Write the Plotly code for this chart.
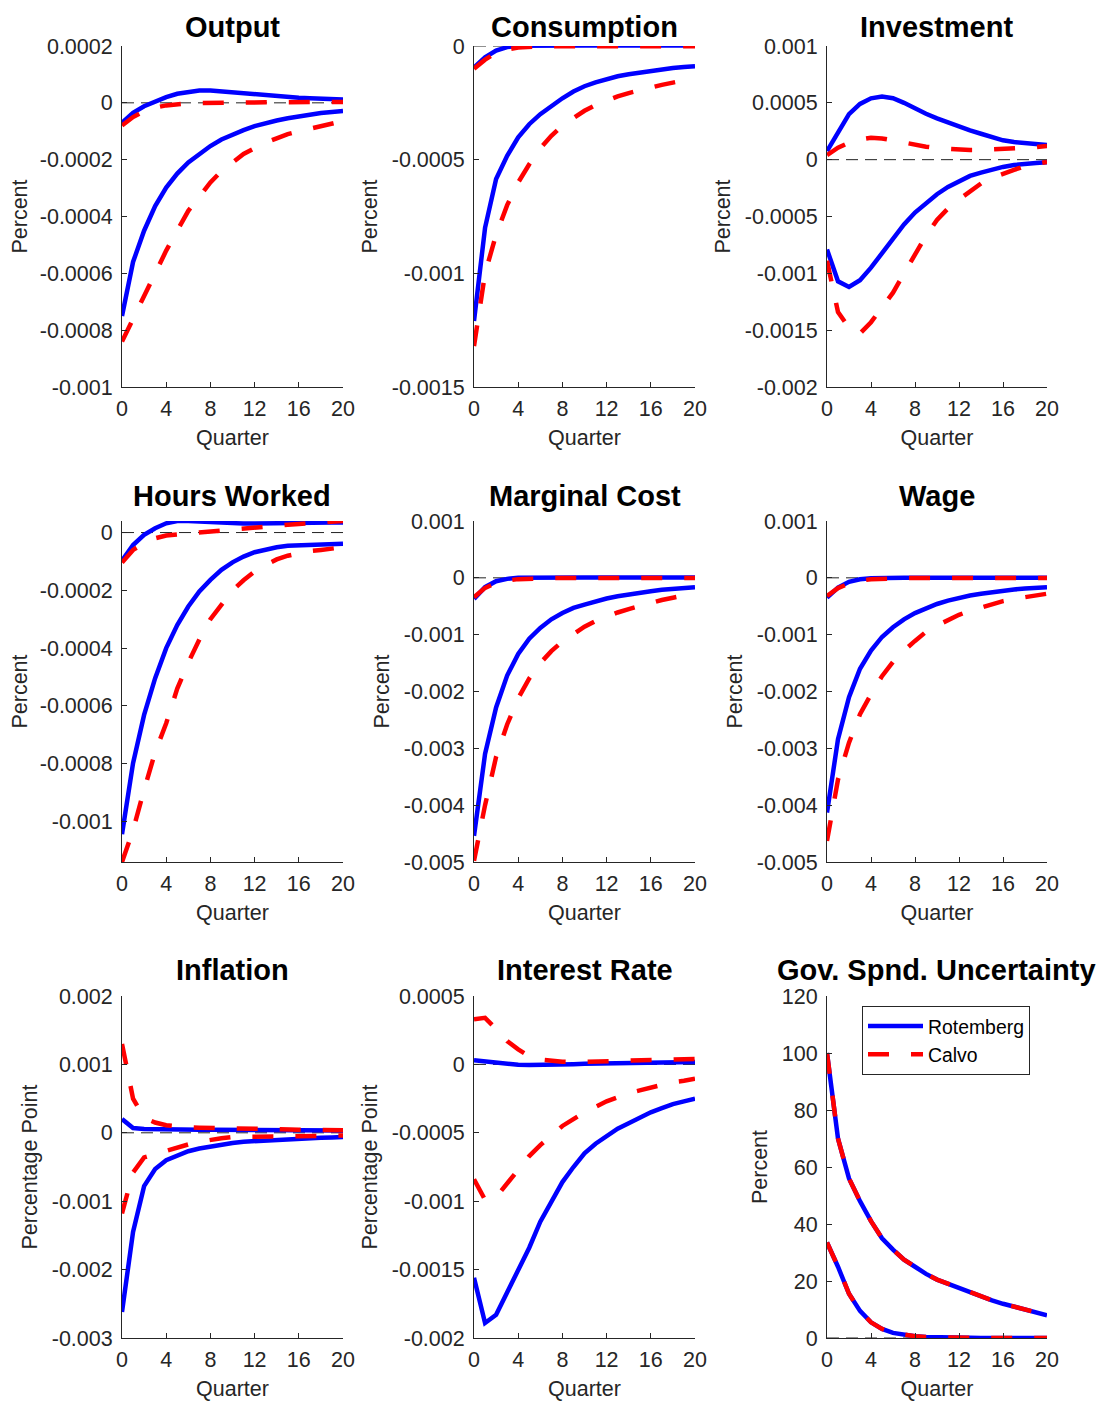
import plotly.graph_objects as go

# horizon
quarters = list(range(21))
quarter_ticks = [0, 4, 8, 12, 16, 20]

# Output
out_rot_hi = [-0.00007, -0.000035, -0.000012, 0.000006, 0.00002, 0.000032, 0.000039, 0.000043, 0.000043, 0.00004, 0.000036,
              0.000031, 0.000027, 0.000024, 0.000022, 0.00002, 0.000018, 0.000016, 0.000014, 0.000013, 0.000012]
out_rot_lo = [-0.00075, -0.00056, -0.00045, -0.000363, -0.000298, -0.000249, -0.00021, -0.000179, -0.000152, -0.000129, -0.000111,
              -0.000096, -0.000082, -0.000071, -0.000062, -0.000054, -0.000047, -0.000041, -0.000036, -0.000032, -0.000029]
out_cal_hi = [-0.00008, -0.00005, -0.00003, -0.000017, -0.000009, -0.000005, -0.000002, -0.000001, 0.0, 0.0, 0.000001,
              0.000001, 0.000001, 0.000002, 0.000002, 0.000002, 0.000002, 0.000003, 0.000003, 0.000003, 0.000003]
out_cal_lo = [-0.00084, -0.00076, -0.00068, -0.0006, -0.00052, -0.00045, -0.00038, -0.00033, -0.00028, -0.00024, -0.00021,
              -0.00018, -0.00016, -0.00014, -0.000125, -0.00011, -0.0001, -0.00009, -0.000082, -0.000073, -0.000064]
out_ticks = [-0.001, -0.0008, -0.0006, -0.0004, -0.0002, 0, 0.0002]
out_labels = ["-0.001", "-0.0008", "-0.0006", "-0.0004", "-0.0002", "0", "0.0002"]

# Consumption
con_rot_hi = [-0.000095, -0.00005, -0.00002, -0.000005, 0.000001, 0.000002, 0.000002, 0.000002, 0.000002, 0.000002, 0.000002,
              0.000002, 0.000002, 0.000002, 0.000002, 0.000002, 0.000002, 0.000002, 0.000002, 0.000002, 0.000002]
con_rot_lo = [-0.00121, -0.0008, -0.000585, -0.000483, -0.000402, -0.000344, -0.0003, -0.000263, -0.00023, -0.0002, -0.000177,
              -0.00016, -0.000145, -0.000133, -0.000124, -0.000116, -0.000108, -0.000102, -0.000097, -0.000092, -0.000089]
con_cal_hi = [-0.0001, -0.00006, -0.00003, -0.000015, -0.000007, -0.000003, -0.000001, -0.000001, -0.000001, -0.000001, -0.000001,
              -0.000001, -0.000001, -0.000001, -0.000001, -0.000001, -0.000001, -0.000001, -0.000001, -0.000001, -0.000001]
con_cal_lo = [-0.00132, -0.001, -0.00083, -0.0007, -0.0006, -0.00052, -0.00045, -0.000395, -0.00035, -0.000315, -0.000285,
              -0.00026, -0.00024, -0.000222, -0.000207, -0.000194, -0.000182, -0.000171, -0.000161, -0.000151, -0.000142]
con_ticks = [-0.0015, -0.001, -0.0005, 0]
con_labels = ["-0.0015", "-0.001", "-0.0005", "0"]

# Investment
inv_rot_hi = [0.000076, 0.000237, 0.0004, 0.00049, 0.00054, 0.000556, 0.00054, 0.0005, 0.00045, 0.000404, 0.000363,
              0.000325, 0.00029, 0.000258, 0.000228, 0.000195, 0.00017, 0.000155, 0.000146, 0.000138, 0.00013]
inv_rot_lo = [-0.00079, -0.00107, -0.00112, -0.00106, -0.00095, -0.00082, -0.00069, -0.00057, -0.000465, -0.000378, -0.000304,
              -0.00024, -0.000187, -0.000143, -0.000114, -0.000085, -0.000064, -0.000047, -0.000035, -0.000029, -0.000023]
inv_cal_hi = [0.00004, 0.000105, 0.00015, 0.000178, 0.000193, 0.000187, 0.00017, 0.00015, 0.00013, 0.000114, 0.000102,
              0.000094, 0.000088, 0.000085, 0.000085, 0.000088, 0.000094, 0.0001, 0.000105, 0.00011, 0.00012]
inv_cal_lo = [-0.00089, -0.00134, -0.00148, -0.00153, -0.00143, -0.0013, -0.00117, -0.001, -0.00083, -0.00067, -0.00053,
              -0.00043, -0.00035, -0.00028, -0.00021, -0.00016, -0.00012, -0.00009, -0.000056, -0.000035, -0.00002]
inv_ticks = [-0.002, -0.0015, -0.001, -0.0005, 0, 0.0005, 0.001]
inv_labels = ["-0.002", "-0.0015", "-0.001", "-0.0005", "0", "0.0005", "0.001"]

# Hours worked
hrs_rot_hi = [-0.000097, -0.000043, -0.000008, 0.000015, 0.000032, 0.00004, 0.00004, 0.000038, 0.000035, 0.000032, 0.000031,
              0.000031, 0.000031, 0.000032, 0.000032, 0.000033, 0.000033, 0.000034, 0.000034, 0.000035, 0.000035]
hrs_rot_lo = [-0.001044, -0.000798, -0.000631, -0.000504, -0.0004, -0.00032, -0.000256, -0.000204, -0.000164, -0.000129, -0.000103,
              -0.000083, -0.000068, -0.000058, -0.000051, -0.000046, -0.000044, -0.000042, -0.00004, -0.000039, -0.000039]
hrs_cal_hi = [-0.000104, -0.00006, -0.000037, -0.00002, -0.00001, -0.000006, -0.000002, 0.000001, 0.000005, 0.000007, 0.00001,
              0.000014, 0.000017, 0.00002, 0.000024, 0.000027, 0.00003, 0.000033, 0.000036, 0.000038, 0.00004]
hrs_cal_lo = [-0.00114, -0.00103, -0.00089, -0.00076, -0.00066, -0.00054, -0.00045, -0.00037, -0.0003, -0.00025, -0.0002,
              -0.000165, -0.000135, -0.000112, -0.000093, -0.00008, -0.00007, -0.000064, -0.00006, -0.000055, -0.000051]
hrs_ticks = [-0.001, -0.0008, -0.0006, -0.0004, -0.0002, 0]
hrs_labels = ["-0.001", "-0.0008", "-0.0006", "-0.0004", "-0.0002", "0"]

# Marginal cost
mc_rot_hi = [-0.00037, -0.000164, -0.00006, -0.000018, 0.0, 0.000004, 0.000005, 0.000005, 0.000005, 0.000005, 0.000005,
             0.000005, 0.000005, 0.000005, 0.000005, 0.000005, 0.000005, 0.000005, 0.000005, 0.000005, 0.000005]
mc_rot_lo = [-0.00454, -0.0031, -0.00228, -0.00172, -0.00134, -0.00107, -0.00088, -0.00073, -0.00062, -0.00053, -0.00047,
             -0.00041, -0.000364, -0.000323, -0.000288, -0.000258, -0.000235, -0.000211, -0.000194, -0.000176, -0.000164]
mc_cal_hi = [-0.00034, -0.000176, -0.000094, -0.000047, -0.000023, -0.000012, -0.000006, -0.000004, -0.000003, -0.000003, -0.000003,
             -0.000003, -0.000003, -0.000003, -0.000003, -0.000003, -0.000003, -0.000003, -0.000003, -0.000003, -0.000003]
mc_cal_lo = [-0.00498, -0.004, -0.00315, -0.00258, -0.00212, -0.00177, -0.0015, -0.00129, -0.00112, -0.00098, -0.00086,
             -0.00076, -0.00068, -0.00061, -0.00055, -0.00049, -0.00044, -0.00039, -0.00035, -0.00031, -0.00027]
mc_ticks = [-0.005, -0.004, -0.003, -0.002, -0.001, 0, 0.001]
mc_labels = ["-0.005", "-0.004", "-0.003", "-0.002", "-0.001", "0", "0.001"]

# Wage
wg_rot_hi = [-0.00035, -0.00017, -0.00007, -0.000025, -0.000008, 0.0, 0.000003, 0.000003, 0.000003, 0.000003, 0.000003,
             0.000003, 0.000003, 0.000003, 0.000003, 0.000003, 0.000003, 0.000003, 0.000003, 0.000003, 0.000003]
wg_rot_lo = [-0.00413, -0.00284, -0.0021, -0.0016, -0.00128, -0.00104, -0.00087, -0.00073, -0.00062, -0.00053, -0.00046,
             -0.0004, -0.00035, -0.00031, -0.00028, -0.00025, -0.00022, -0.000205, -0.000188, -0.000176, -0.000164]
wg_cal_hi = [-0.00032, -0.00018, -0.0001, -0.00005, -0.000025, -0.000012, -0.000006, -0.000004, -0.000003, -0.000003, -0.000003,
             -0.000003, -0.000003, -0.000003, -0.000003, -0.000003, -0.000003, -0.000003, -0.000003, -0.000003, -0.000003]
wg_cal_lo = [-0.00463, -0.00355, -0.0029, -0.0024, -0.00205, -0.00173, -0.00148, -0.00128, -0.00111, -0.00095, -0.00084,
             -0.00074, -0.00065, -0.00058, -0.00052, -0.00046, -0.00041, -0.00037, -0.00034, -0.00031, -0.00028]
wg_ticks = mc_ticks
wg_labels = mc_labels

# Inflation
inf_rot_hi = [0.0002, 0.00007, 0.000055, 0.00005, 0.000048, 0.000047, 0.000046, 0.000045, 0.000044, 0.000043, 0.000042,
              0.000041, 0.00004, 0.000039, 0.000038, 0.000037, 0.000036, 0.000036, 0.000035, 0.000035, 0.000034]
inf_rot_lo = [-0.00262, -0.00145, -0.00078, -0.00053, -0.0004, -0.00033, -0.00027, -0.00023, -0.0002, -0.00017, -0.00015,
              -0.00013, -0.00012, -0.00011, -0.0001, -0.000092, -0.000085, -0.000078, -0.000072, -0.000067, -0.000063]
inf_cal_hi = [0.0013, 0.0005, 0.00022, 0.00015, 0.00011, 0.00009, 0.00008, 0.000075, 0.00007, 0.000066, 0.000062,
              0.000058, 0.000055, 0.000052, 0.00005, 0.000047, 0.000045, 0.000043, 0.000041, 0.00004, 0.000038]
inf_cal_lo = [-0.00118, -0.00058, -0.00036, -0.00031, -0.00026, -0.00021, -0.00017, -0.00013, -0.0001, -0.00008, -0.000062,
              -0.00006, -0.000058, -0.000055, -0.000052, -0.00005, -0.000047, -0.000045, -0.000043, -0.00004, -0.00004]
inf_ticks = [-0.003, -0.002, -0.001, 0, 0.001, 0.002]
inf_labels = ["-0.003", "-0.002", "-0.001", "0", "0.001", "0.002"]

# Interest rate
ir_rot_hi = [0.00003, 0.000022, 0.000012, 0.000002, -0.000003, -0.000005, -0.000005, -0.000003, 0.0, 0.000002, 0.000004,
             0.000005, 0.000007, 0.000008, 0.00001, 0.000011, 0.000012, 0.000013, 0.000015, 0.000016, 0.000017]
ir_rot_lo = [-0.00156, -0.00189, -0.00183, -0.00167, -0.00151, -0.00134, -0.00115, -0.001, -0.00086, -0.00075, -0.00065,
             -0.00058, -0.00052, -0.00047, -0.00043, -0.00039, -0.00035, -0.00032, -0.00029, -0.00027, -0.00025]
ir_cal_hi = [0.00033, 0.00034, 0.00026, 0.00017, 0.00011, 0.00006, 0.000035, 0.000025, 0.00002, 0.000018, 0.000018,
             0.00002, 0.000022, 0.000025, 0.000028, 0.00003, 0.000033, 0.000035, 0.000037, 0.000039, 0.00004]
ir_cal_lo = [-0.00084, -0.00099, -0.00097, -0.00087, -0.00076, -0.00067, -0.00059, -0.00052, -0.00045, -0.0004, -0.00035,
             -0.00031, -0.00027, -0.00024, -0.00021, -0.00019, -0.00017, -0.00015, -0.00013, -0.00012, -0.000105]
ir_ticks = [-0.002, -0.0015, -0.001, -0.0005, 0, 0.0005]
ir_labels = ["-0.002", "-0.0015", "-0.001", "-0.0005", "0", "0.0005"]

# Government spending uncertainty shock (identical in both models)
gov_rot_hi = [100, 70, 56, 48, 41, 35, 31, 27.5, 25, 22.5, 20.5, 19, 17.5, 16, 14.5, 13.2, 12, 11, 10, 9, 8]
gov_rot_lo = [33.5, 25, 15.5, 9.5, 5.5, 3.2, 1.8, 1.0, 0.6, 0.35, 0.2, 0.12, 0.08, 0.05, 0.03, 0.02, 0.01, 0.01, 0.0, 0.0, 0.0]
gov_cal_hi = gov_rot_hi
gov_cal_lo = gov_rot_lo
gov_ticks = [0, 20, 40, 60, 80, 100, 120]
gov_labels = ["0", "20", "40", "60", "80", "100", "120"]

panels = [
    ("Output", "Percent", [out_rot_hi, out_rot_lo], [out_cal_hi, out_cal_lo], [-0.001, 0.0002], out_ticks, out_labels),
    ("Consumption", "Percent", [con_rot_hi, con_rot_lo], [con_cal_hi, con_cal_lo], [-0.0015, 0], con_ticks, con_labels),
    ("Investment", "Percent", [inv_rot_hi, inv_rot_lo], [inv_cal_hi, inv_cal_lo], [-0.002, 0.001], inv_ticks, inv_labels),
    ("Hours Worked", "Percent", [hrs_rot_hi, hrs_rot_lo], [hrs_cal_hi, hrs_cal_lo], [-0.00114, 0.00004], hrs_ticks, hrs_labels),
    ("Marginal Cost", "Percent", [mc_rot_hi, mc_rot_lo], [mc_cal_hi, mc_cal_lo], [-0.005, 0.001], mc_ticks, mc_labels),
    ("Wage", "Percent", [wg_rot_hi, wg_rot_lo], [wg_cal_hi, wg_cal_lo], [-0.005, 0.001], wg_ticks, wg_labels),
    ("Inflation", "Percentage Point", [inf_rot_hi, inf_rot_lo], [inf_cal_hi, inf_cal_lo], [-0.003, 0.002], inf_ticks, inf_labels),
    ("Interest Rate", "Percentage Point", [ir_rot_hi, ir_rot_lo], [ir_cal_hi, ir_cal_lo], [-0.002, 0.0005], ir_ticks, ir_labels),
    ("Gov. Spnd. Uncertainty", "Percent", [gov_rot_hi, gov_rot_lo], [gov_cal_hi, gov_cal_lo], [0, 120], gov_ticks, gov_labels),
]

# layout, in page pixels; the page body has an 8px default margin
PAGE_W, PAGE_H = 1107, 1401
PAD = 8
W, H = PAGE_W - PAD, PAGE_H - PAD
cols_px = [(122, 343), (474, 695), (827, 1047)]
rows_px = [(46, 387), (521, 862), (996, 1338)]
title_px = [27, 496, 970]  # top row nudged down so the title box stays inside the page


def fx(px):
    return (px - PAD) / W


def fy(px):
    return 1 - (px - PAD) / H


FONT = "Liberation Sans, Arial, sans-serif"
AX = "#262626"

fig = go.Figure()
shapes = []
annotations = []

for i, (title, ylab, rot, cal, yr, yt, yl) in enumerate(panels):
    r, c = divmod(i, 3)
    n = i + 1
    xa = "x" if n == 1 else f"x{n}"
    ya = "y" if n == 1 else f"y{n}"

    for k, ys in enumerate(rot):
        fig.add_trace(go.Scatter(x=quarters, y=ys, xaxis=xa, yaxis=ya, mode="lines",
                                 line=dict(color="#0000ff", width=4.5),
                                 name="Rotemberg", showlegend=(n == 9 and k == 0)))
    for k, ys in enumerate(cal):
        fig.add_trace(go.Scatter(x=quarters, y=ys, xaxis=xa, yaxis=ya, mode="lines",
                                 line=dict(color="#ff0000", width=4.5, dash="21px,22px"),
                                 name="Calvo", showlegend=(n == 9 and k == 0)))

    x0, x1 = cols_px[c]
    y0, y1 = rows_px[r]
    xd = [fx(x0), fx(x1)]
    yd = [fy(y1), fy(y0)]

    fig.update_layout(**{
        ("xaxis" if n == 1 else f"xaxis{n}"): dict(
            domain=xd, anchor=ya, range=[quarters[0], quarters[-1]], automargin=False,
            tickvals=quarter_ticks, ticks="inside", ticklen=5, tickcolor=AX,
            showline=True, linecolor=AX, linewidth=1, showgrid=False, zeroline=False,
            tickfont=dict(family=FONT, size=21.5, color=AX), ticklabelstandoff=2,
            title=dict(text="Quarter", font=dict(family=FONT, size=21.5, color=AX), standoff=10),
        ),
        ("yaxis" if n == 1 else f"yaxis{n}"): dict(
            domain=yd, anchor=xa, range=yr, tickvals=yt, ticktext=yl, automargin=False,
            ticks="inside", ticklen=5, tickcolor=AX,
            showline=True, linecolor=AX, linewidth=1, showgrid=False, zeroline=False,
            tickfont=dict(family=FONT, size=21.5, color=AX), ticklabelstandoff=4,
            title=dict(text=ylab, font=dict(family=FONT, size=21.5, color=AX), standoff=8),
        ),
    })

    # dashed zero reference
    shapes.append(dict(type="line", xref=xa, yref=ya, x0=quarters[0], x1=quarters[-1], y0=0, y1=0,
                       line=dict(color="#222222", width=1, dash="12px,7px"), layer="below"))

    annotations.append(dict(text=title, xref="paper", yref="paper",
                            x=(xd[0] + xd[1]) / 2, y=fy(title_px[r]),
                            xanchor="center", yanchor="middle", showarrow=False,
                            font=dict(family=FONT, size=29, color="black", weight="bold")))

fig.update_layout(
    width=W, height=H,
    margin=dict(l=0, r=0, t=0, b=0, autoexpand=False),
    paper_bgcolor="white", plot_bgcolor="white",
    shapes=shapes, annotations=annotations,
    legend=dict(x=fx(862), y=fy(1006), xanchor="left", yanchor="top",
                bgcolor="white", bordercolor=AX, borderwidth=1, tracegroupgap=0,
                font=dict(family=FONT, size=19.4, color="black"), itemwidth=55),
)

fig.write_html("out.html")
